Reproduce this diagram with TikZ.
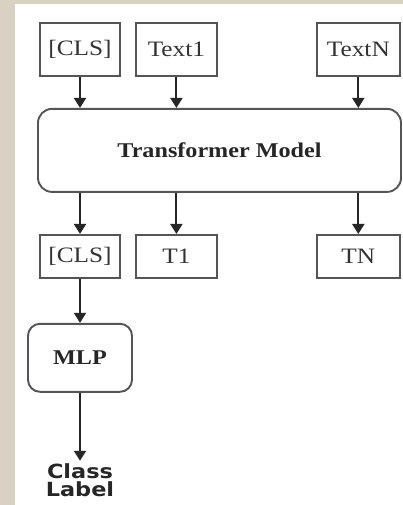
\documentclass[tikz,border=0pt]{standalone}
\usepackage{fontspec}
\setmainfont{Liberation Serif}[FakeStretch=1.15]
\newfontfamily\labelfont{DejaVu Sans}[FakeStretch=1.15]
\usetikzlibrary{positioning, arrows.meta}
\definecolor{paper}{HTML}{D9D2C3}
\definecolor{edge}{HTML}{555555}

\begin{document}
\begin{tikzpicture}[
    x=1pt, y=1pt,
    token/.style={rectangle, draw=edge, line width=1.9pt, minimum width=80pt, minimum height=53pt, inner sep=0pt, text=black!80, font=\fontsize{22}{26}\selectfont},
    outtoken/.style={token, minimum height=43pt},
    block/.style={rectangle, rounded corners=14pt, draw=edge, line width=1.9pt, inner sep=0pt, text=black!85, font=\fontsize{21}{25}\selectfont\bfseries},
    arrow/.style={line width=1.9pt, draw=black!85, -{Triangle[width=12pt,length=10pt]}}
]
    % page
    \useasboundingbox (0,0) rectangle (403,-505);
    \fill[paper] (0,0) rectangle (403,-505);
    \fill[white] (15,-4) rectangle (403,-505);

    % input tokens
    \node[token] (cls) at (80,-49.5) {[CLS]};
    \node[token, minimum width=81pt, right=14pt of cls] (text1) {Text1};
    \node[token, minimum width=83pt, right=98pt of text1] (textN) {TextN};

    % encoder
    \node[block, minimum width=363pt, minimum height=83pt, below right=31pt and -2pt of cls.south west] (trans) {Transformer Model};

    % output tokens
    \node[outtoken, below=157pt of cls] (clsout) {[CLS]};
    \node[outtoken, minimum width=81pt, right=14pt of clsout] (t1) {T1};
    \node[outtoken, minimum width=83pt, below=157pt of textN] (tn) {TN};

    % classifier head
    \node[block, rounded corners=12pt, minimum width=104pt, minimum height=68pt, below=44pt of clsout] (mlp) {MLP};
    \node[below=68pt of mlp, inner sep=3pt, align=center, text=black!85, font=\labelfont\bfseries\fontsize{19.5}{18}\selectfont] (label) {Class\\Label};

    \draw[arrow] (cls) -- (cls |- trans.north);
    \draw[arrow] (text1) -- (text1 |- trans.north);
    \draw[arrow] (textN) -- (textN |- trans.north);
    \draw[arrow] (trans.south -| clsout) -- (clsout);
    \draw[arrow] (trans.south -| t1) -- (t1);
    \draw[arrow] (trans.south -| tn) -- (tn);
    \draw[arrow] (clsout) -- (mlp);
    \draw[arrow] (mlp) -- (label);

\end{tikzpicture}
\end{document}
